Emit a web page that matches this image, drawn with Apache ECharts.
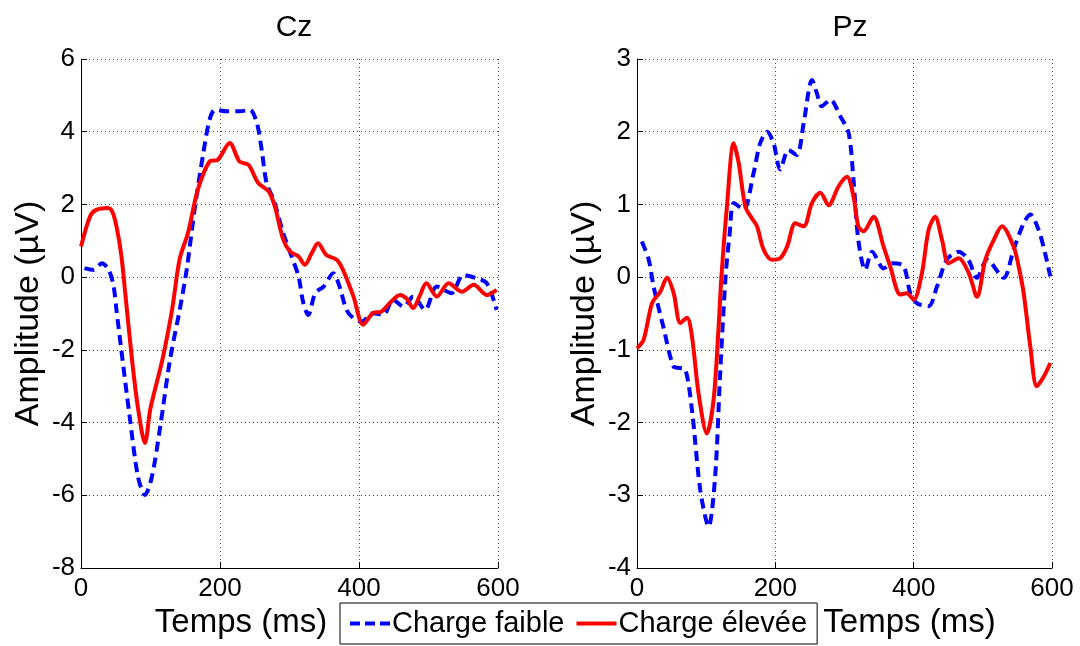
<!DOCTYPE html>
<html>
<head>
<meta charset="utf-8">
<script src="https://cdn.jsdelivr.net/npm/echarts@6/dist/echarts.min.js"></script>
<style>
  html, body { margin: 0; padding: 0; background: #fff; }
  #chart { width: 1080px; height: 646px; }
</style>
</head>
<body>
<div id="chart"></div>
<script>
// valeurs : [temps (ms), amplitude (µV)]
var panelTitles = ['Cz', 'Pz'];
var seriesNames = ['Charge faible', 'Charge élevée'];
var xTicks = [0, 200, 400, 600];
var czTicks = [-8, 6, 2];   // min, max, pas
var pzTicks = [-4, 3, 1];

var czFaible = [
  [5, 0.25], [18, 0.2], [30, 0.38], [40, 0.2], [47, -0.26], [51, -0.9], [58, -2.0],
  [70, -3.83], [82, -5.49], [92, -5.99], [102, -5.49], [114, -4.11], [128, -2.28],
  [142, -0.9], [152, 0.2], [164, 1.94], [176, 3.41], [185, 4.33], [193, 4.6],
  [209, 4.56], [228, 4.56], [243, 4.6], [253, 4.24], [260, 3.5], [267, 2.59],
  [277, 2.13], [291, 1.21], [303, 0.57], [313, 0.02], [320, -0.72], [327, -1.04],
  [337, -0.44], [349, -0.26], [363, 0.11], [372, -0.26], [382, -0.9], [392, -1.13],
  [404, -1.22], [420, -0.99], [435, -1.04], [449, -0.62], [464, -0.81], [478, -0.53],
  [495, -0.9], [512, -0.26], [533, -0.44], [550, 0.06], [569, -0.03], [584, -0.17],
  [598, -0.9]
];
var czElevee = [
  [0, 0.84], [13, 1.67], [22, 1.85], [39, 1.9], [46, 1.76], [52, 1.3], [58, 0.6],
  [64, -0.5], [73, -2.2], [82, -3.6], [92, -4.56], [100, -3.6], [117, -2.28],
  [131, -0.9], [142, 0.5], [154, 1.22], [168, 2.4], [185, 3.18], [197, 3.23],
  [214, 3.69], [228, 3.18], [241, 3.09], [255, 2.59], [270, 2.36], [279, 1.94],
  [291, 1.03], [301, 0.7], [313, 0.57], [322, 0.34], [332, 0.66], [341, 0.93],
  [353, 0.61], [368, 0.48], [377, 0.2], [392, -0.53], [406, -1.31], [420, -0.99],
  [432, -0.95], [444, -0.72], [459, -0.49], [468, -0.58], [478, -0.85], [487, -0.53],
  [497, -0.17], [512, -0.53], [529, -0.17], [548, -0.4], [565, -0.21], [584, -0.49],
  [598, -0.35]
];
var pzFaible = [
  [7, 0.49], [17, 0.24], [24, -0.13], [38, -0.68], [53, -1.23], [62, -1.25], [70, -1.27],
  [79.5, -1.83], [91.5, -2.93], [103.5, -3.43], [113, -2.74], [120, -1.37], [128, 0.0],
  [134, 0.6], [140, 1.02], [154, 0.93], [168.5, 1.43], [178, 1.84], [188, 2.0],
  [197.5, 1.84], [207, 1.48], [219, 1.75], [231, 1.68], [241, 2.12], [253, 2.71],
  [260, 2.53], [267, 2.35], [279.5, 2.44], [294, 2.21], [306, 1.98], [313, 1.34],
  [320, 0.51], [330, 0.1], [340, 0.35], [356.5, 0.12], [368.6, 0.19], [385.4, 0.15],
  [395, -0.22], [405, -0.36], [421.6, -0.4], [433.7, -0.13], [448, 0.24], [465, 0.35],
  [479, 0.24], [491.6, -0.01], [506, 0.24], [530, -0.01], [544.5, 0.38], [559, 0.74],
  [568.6, 0.86], [580.6, 0.65], [590, 0.33], [597.5, 0.01]
];
var pzElevee = [
  [0, -0.98], [9.6, -0.86], [21.7, -0.36], [33.7, -0.2], [43.4, -0.01], [53, -0.22],
  [62.6, -0.63], [72.3, -0.56], [79.5, -0.82], [89, -1.6], [101, -2.15], [110.7, -1.69],
  [118, -0.68], [122, 0.0], [130, 0.97], [139.7, 1.84], [147, 1.57], [156.6, 0.97],
  [166, 0.81], [173.5, 0.7], [183, 0.38], [195, 0.24], [207, 0.26], [217, 0.42],
  [229, 0.74], [241, 0.7], [253, 1.02], [265, 1.16], [277, 0.99], [291.5, 1.25],
  [303.6, 1.38], [313, 1.11], [320, 0.7], [327.6, 0.63], [342, 0.83], [356.5, 0.42],
  [366, 0.15], [380.7, -0.24], [390, -0.22], [400, -0.31], [412, 0.06], [421.6, 0.65],
  [431, 0.83], [441, 0.51], [450.5, 0.19], [465, 0.26], [479.5, 0.06], [491.6, -0.27],
  [503.6, 0.24], [515.7, 0.51], [527.7, 0.7], [544.5, 0.42], [551.7, 0.15], [559, -0.22],
  [568.6, -0.95], [578, -1.5], [588, -1.37], [597.5, -1.18]
];

var font = 'Liberation Sans, Arial, Helvetica, sans-serif';

function xAxisFor(idx, pad) {
  return {
    type: 'value', gridIndex: idx,
    min: xTicks[0], max: xTicks[xTicks.length - 1], interval: xTicks[1] - xTicks[0],
    name: 'Temps (ms)', nameLocation: 'middle', nameGap: 38,
    nameTextStyle: { fontFamily: font, fontSize: 33, color: '#000', padding: pad },
    axisLine: { show: true, onZero: false, lineStyle: { color: '#000', width: 1 } },
    axisTick: { show: true, inside: true, length: 6, lineStyle: { color: '#000' } },
    axisLabel: { fontFamily: font, fontSize: 26, color: '#000', margin: 8 },
    splitLine: { show: true, lineStyle: { type: [1, 3], color: '#444', width: 1 } }
  };
}

function yAxisFor(idx, t) {
  return {
    type: 'value', gridIndex: idx,
    min: t[0], max: t[1], interval: t[2],
    name: 'Amplitude (µV)', nameLocation: 'middle', nameGap: 35, nameRotate: 90,
    nameTextStyle: { fontFamily: font, fontSize: 34, color: '#000' },
    axisLine: { show: true, onZero: false, lineStyle: { color: '#000', width: 1 } },
    axisTick: { show: true, inside: true, length: 6, lineStyle: { color: '#000' } },
    axisLabel: { fontFamily: font, fontSize: 26, color: '#000', margin: 6 },
    splitLine: { show: true, lineStyle: { type: [1, 3], color: '#444', width: 1 } }
  };
}

function line(name, idx, data, color, dashed) {
  return {
    name: name, type: 'line', xAxisIndex: idx, yAxisIndex: idx,
    data: data, symbol: 'none', smooth: 0.3, animation: false,
    lineStyle: { color: color, width: 4, type: dashed ? [10, 6] : 'solid' },
    itemStyle: { color: color }
  };
}

var myChart = echarts.init(document.getElementById('chart'));
var option = {
  backgroundColor: '#fff',
  animation: false,
  title: [
    { text: panelTitles[0], left: 289, top: 8, textAlign: 'center',
      textStyle: { fontFamily: font, fontSize: 30, fontWeight: 'normal', color: '#000' } },
    { text: panelTitles[1], left: 845, top: 8, textAlign: 'center',
      textStyle: { fontFamily: font, fontSize: 30, fontWeight: 'normal', color: '#000' } }
  ],
  grid: [
    { left: 81, top: 59, width: 417, height: 509 },
    { left: 637, top: 59, width: 415, height: 509 }
  ],
  xAxis: [xAxisFor(0, [0, 97, 0, 0]), xAxisFor(1, [0, 0, 0, 130])],
  yAxis: [yAxisFor(0, czTicks), yAxisFor(1, pzTicks)],
  legend: {
    data: [
      { name: seriesNames[0], icon: 'path://M0,0h10v4h-10zM15,0h10v4h-10zM30,0h10v4h-10z' },
      { name: seriesNames[1], icon: 'path://M0,0h40v4h-40z' }
    ],
    left: 340, top: 603,
    orient: 'horizontal',
    backgroundColor: '#fff',
    borderColor: '#000', borderWidth: 1, borderRadius: 0,
    padding: [6, 10, 6, 10],
    itemGap: 12, itemWidth: 40, itemHeight: 4,
    textStyle: { fontFamily: font, fontSize: 29, color: '#000', padding: [0, 0, 0, -3] }
  },
  series: [
    line(seriesNames[0], 0, czFaible, '#0000ff', true),
    line(seriesNames[1], 0, czElevee, '#ff0000', false),
    line(seriesNames[0], 1, pzFaible, '#0000ff', true),
    line(seriesNames[1], 1, pzElevee, '#ff0000', false)
  ]
};
myChart.setOption(option);
window.addEventListener('resize', function () { myChart.resize(); });
</script>
</body>
</html>
